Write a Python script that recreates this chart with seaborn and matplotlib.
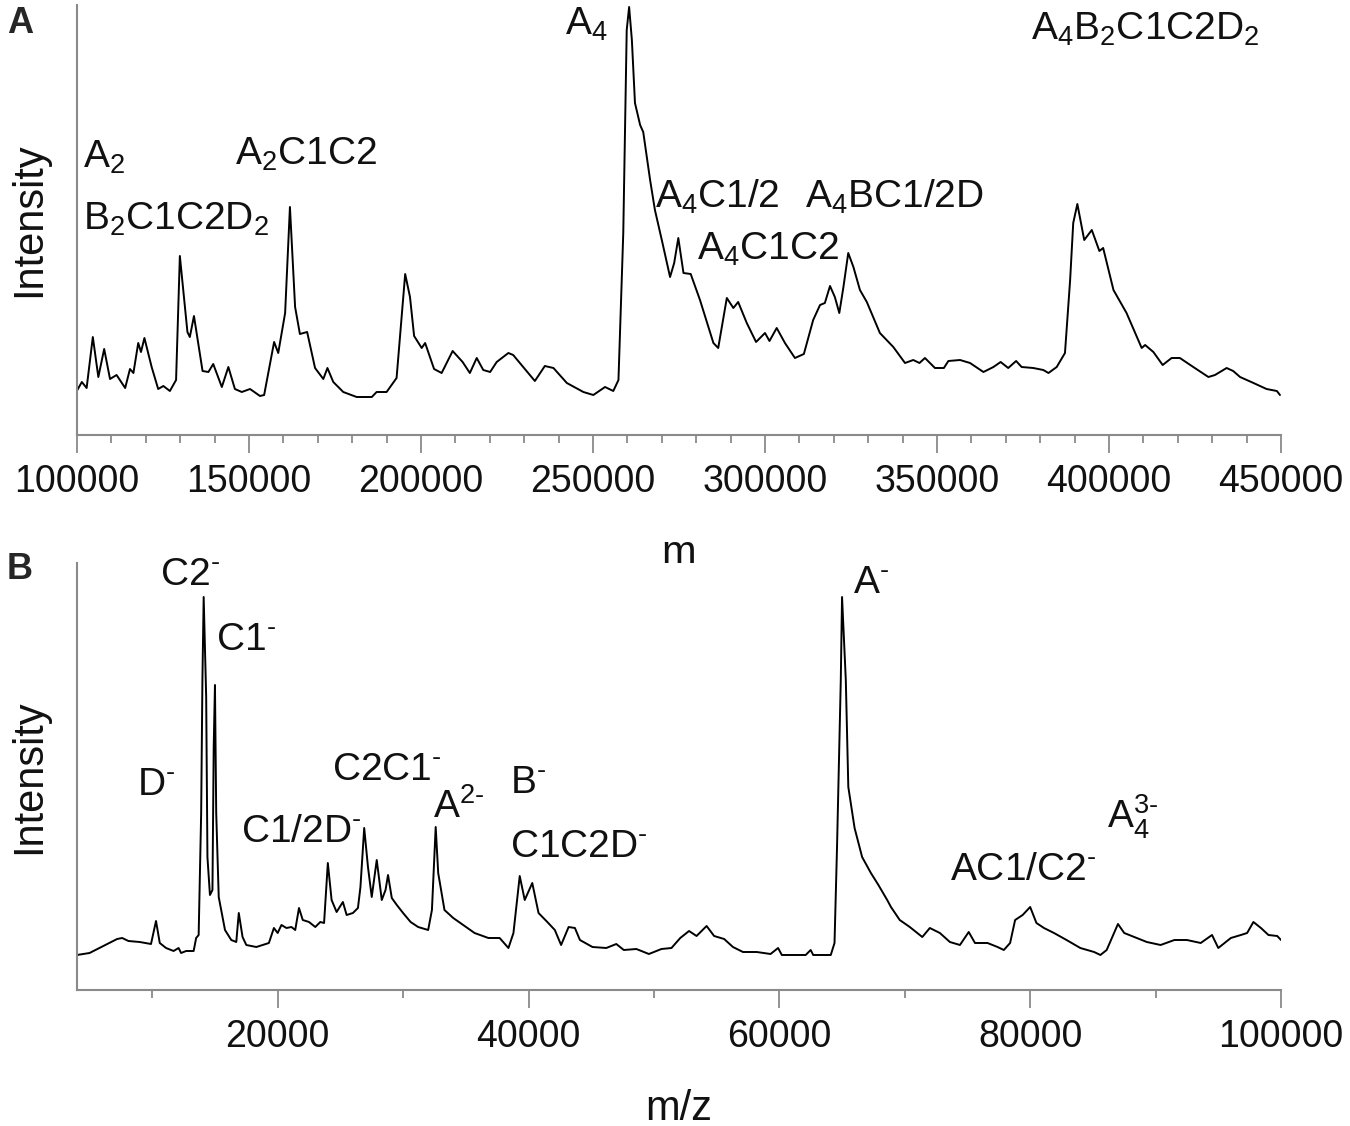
import matplotlib.pyplot as plt
import pandas as pd
import seaborn as sns
from matplotlib.ticker import MultipleLocator

# Panel A: mass spectrum (m), intensity in arbitrary units
a_mass = [100100, 101400, 102800, 104600, 106200, 107900, 109600, 111500, 114000, 115400,
          116400, 117800, 118600, 119600, 121700, 123600, 125100, 127000, 128800, 129900,
          132100, 132800, 134000, 136500, 138200, 139600, 142100, 144000, 145900, 147900,
          150300, 153200, 154400, 157300, 158500, 160500, 161900, 163400, 164800, 166900,
          169200, 171600, 172800, 174500, 177400, 181300, 185700, 187100, 190000, 192900,
          195400, 196800, 198000, 200200, 201200, 203800, 206000, 209200, 212100, 214200,
          216200, 218100, 220100, 222000, 225400, 226800, 229700, 233100, 236000, 238500,
          242400, 247200, 250100, 253500, 255900, 257400, 258800, 259800, 260500, 261300,
          262200, 263700, 264600, 266600, 268000, 270000, 272400, 273600, 274800, 276300,
          278400, 281100, 285000, 286400, 288900, 290800, 292200, 294700, 297400, 300000,
          301300, 303400, 305800, 308700, 311300, 314000, 316000, 317400, 318900, 320300,
          321600, 322800, 324200, 325700, 327600, 329600, 333400, 337300, 340700, 343100,
          344900, 346500, 349400, 352000, 353300, 356700, 359600, 363500, 366400, 368500,
          370700, 373000, 374600, 378000, 380900, 382400, 384800, 387200, 388700, 389600,
          390800, 392800, 395000, 397200, 398300, 401300, 405100, 409500, 410500, 412900,
          415600, 418200, 420600, 424500, 428900, 430800, 434200, 436100, 438100, 442000,
          445800, 448800, 449700]
a_intensity = [45, 53, 47, 98, 58, 86, 56, 60, 47, 66,
               62, 92, 83, 97, 68, 46, 49, 44, 55, 179,
               103, 98, 119, 64, 63, 71, 48, 68, 46, 43,
               46, 39, 40, 93, 82, 122, 228, 128, 101, 103,
               67, 56, 67, 53, 43, 38, 38, 43, 43, 57,
               161, 138, 99, 87, 92, 66, 62, 84, 73, 62,
               77, 65, 63, 73, 82, 80, 68, 54, 69, 67,
               52, 43, 40, 48, 44, 55, 202, 405, 428, 395,
               332, 310, 303, 255, 225, 195, 158, 172, 197, 162,
               161, 135, 92, 87, 137, 127, 133, 112, 93, 102,
               94, 107, 92, 77, 81, 115, 130, 132, 149, 138,
               122, 148, 182, 168, 145, 133, 102, 88, 72, 75,
               72, 77, 67, 67, 74, 75, 72, 63, 68, 73,
               67, 74, 68, 67, 65, 62, 68, 82, 155, 212,
               231, 195, 205, 184, 187, 145, 122, 87, 90, 83,
               70, 77, 77, 68, 58, 60, 67, 64, 58, 52,
               46, 44, 40]

# Panel B: m/z spectrum
b_mz = [4000, 5000, 6100, 7200, 7600, 8100, 9000, 9900, 10300, 10600,
        11100, 11700, 12100, 12300, 12700, 13300, 13500, 13700, 13900, 14000,
        14100, 14300, 14400, 14600, 14800, 14900, 15000, 15100, 15300, 15800,
        16300, 16700, 16900, 17200, 17500, 18300, 19300, 19700, 20000, 20300,
        20700, 21100, 21400, 21700, 22000, 22500, 23000, 23400, 23700, 24000,
        24300, 24700, 25200, 25500, 26000, 26400, 26600, 26900, 27200, 27500,
        27900, 28300, 28600, 28800, 29100, 29500, 30000, 30600, 31200, 32000,
        32300, 32600, 32800, 33300, 34000, 34800, 35700, 36800, 37700, 38400,
        38800, 39300, 39700, 40300, 40800, 41500, 42100, 42600, 43200, 43700,
        44100, 45100, 46200, 47000, 47600, 48600, 49600, 50600, 51400, 52100,
        52800, 53400, 54200, 54800, 55600, 56300, 57100, 58200, 59300, 59900,
        60200, 62100, 62500, 62700, 64100, 64400, 64600, 64900, 65000, 65300,
        65500, 66000, 66600, 67300, 67900, 68600, 68900, 69600, 70400, 71400,
        72000, 72800, 73600, 74400, 75100, 75600, 76600, 77400, 77900, 78400,
        78800, 79400, 80000, 80500, 81100, 81900, 82900, 84000, 85100, 85600,
        86100, 87000, 87500, 88300, 89300, 90400, 91500, 92500, 93600, 94500,
        95000, 96000, 96800, 97300, 97800, 98400, 99000, 99700, 100000]
b_intensity = [35, 37, 44, 51, 52, 49, 48, 46, 69, 47,
               42, 39, 42, 37, 39, 39, 52, 55, 177, 310,
               393, 293, 133, 95, 100, 243, 305, 177, 93, 60,
               50, 48, 77, 53, 45, 43, 47, 62, 57, 65,
               62, 63, 60, 82, 70, 68, 63, 68, 67, 127,
               90, 78, 88, 75, 77, 82, 103, 162, 123, 93,
               130, 90, 100, 115, 92, 85, 77, 68, 63, 60,
               80, 163, 117, 80, 72, 65, 57, 52, 52, 42,
               57, 114, 90, 107, 77, 68, 60, 45, 63, 62,
               50, 43, 42, 46, 40, 41, 36, 41, 42, 52,
               59, 54, 64, 54, 51, 43, 38, 38, 36, 42,
               35, 35, 40, 35, 35, 47, 143, 310, 393, 310,
               203, 162, 133, 117, 105, 90, 83, 70, 63, 53,
               62, 57, 48, 45, 58, 47, 47, 43, 40, 47,
               70, 75, 83, 67, 62, 57, 50, 42, 38, 35,
               40, 66, 57, 53, 48, 45, 50, 50, 47, 55,
               42, 52, 55, 57, 68, 62, 55, 54, 50]

# peak labels: text, x, baseline intensity
HY = '\u2010'  # short hyphen used as the charge sign
a_labels = [r'A$_4$', r'A$_2$', r'B$_2$C1C2D$_2$', r'A$_2$C1C2', r'A$_4$B$_2$C1C2D$_2$',
            r'A$_4$C1/2', r'A$_4$C1C2', r'A$_4$BC1/2D']
a_label_x = [242000, 101700, 101700, 146000, 377300, 268000, 280200, 311600]
a_label_y = [400, 267, 205, 270, 395, 227, 175, 227]

b_labels = ['C2$^{%s}$' % HY, 'C1$^{%s}$' % HY, 'D$^{%s}$' % HY, 'C1/2D$^{%s}$' % HY,
            'C2C1$^{%s}$' % HY, 'A$^{2%s}$' % HY, 'B$^{%s}$' % HY, 'C1C2D$^{%s}$' % HY,
            'A$^{%s}$' % HY, 'AC1/C2$^{%s}$' % HY, 'A$_4^{3%s}$' % HY]
b_label_x = [10600, 15100, 8750, 17100, 24300, 32400, 38500, 38500, 65900, 73600, 86100]
b_label_y = [405, 340, 195, 148, 210, 172, 197, 133, 397, 110, 162]

df_a = pd.DataFrame({'m': a_mass, 'Intensity': a_intensity})
df_b = pd.DataFrame({'m/z': b_mz, 'Intensity': b_intensity})

sns.set_style("ticks")
plt.rcParams['font.family'] = ['Liberation Sans', 'DejaVu Sans']
plt.rcParams['mathtext.fontset'] = 'custom'
plt.rcParams['mathtext.rm'] = 'Liberation Sans'
plt.rcParams['mathtext.it'] = 'Liberation Sans'
plt.rcParams['mathtext.default'] = 'regular'

W, H = 1350, 1126
fig = plt.figure(figsize=(W / 100, H / 100), dpi=100)
ax_a = fig.add_axes([77 / W, 1 - 435 / H, 1204 / W, 430 / H])
ax_b = fig.add_axes([77 / W, 1 - 990 / H, 1204 / W, 427 / H])

spine_col = '#8a8a8a'
ink = '#111111'


def style_axis(ax, major, minor):
    ax.spines[['top', 'right']].set_visible(False)
    for s in ['left', 'bottom']:
        ax.spines[s].set_color(spine_col)
        ax.spines[s].set_linewidth(1.5)
    ax.set_yticks([])
    ax.xaxis.set_major_locator(MultipleLocator(major))
    ax.xaxis.set_minor_locator(MultipleLocator(minor))
    ax.ticklabel_format(axis='x', style='plain', useOffset=False)
    ax.tick_params(axis='x', which='major', length=13, width=1.3, color=spine_col,
                   labelsize=27, pad=8, labelcolor=ink)
    ax.tick_params(axis='x', which='minor', length=6, width=1.3, color=spine_col)


# Panel A
sns.lineplot(data=df_a, x='m', y='Intensity', ax=ax_a, color='black', lw=1.4, estimator=None)
ax_a.set_xlim(100000, 450000)
ax_a.set_ylim(0, 430)
style_axis(ax_a, 50000, 10000)
ax_a.set_xlabel('m', fontsize=30, labelpad=24, color=ink)
ax_a.set_ylabel('Intensity', fontsize=30, labelpad=20, color=ink)
for t, x, y in zip(a_labels, a_label_x, a_label_y):
    ax_a.text(x, y, t, fontsize=28, ha='left', va='baseline', color=ink)

# Panel B
sns.lineplot(data=df_b, x='m/z', y='Intensity', ax=ax_b, color='black', lw=1.4, estimator=None)
ax_b.set_xlim(4000, 100000)
ax_b.set_ylim(0, 427)
style_axis(ax_b, 20000, 10000)
ax_b.set_xlabel('m/z', fontsize=30, labelpad=24, color=ink)
ax_b.set_ylabel('Intensity', fontsize=30, labelpad=20, color=ink)
for t, x, y in zip(b_labels, b_label_x, b_label_y):
    ax_b.text(x, y, t, fontsize=28, ha='left', va='baseline', color=ink)

fig.text(7 / W, 1 - 6 / H, 'A', fontsize=26, fontweight='bold', va='top', ha='left',
         family='Liberation Sans')
fig.text(7 / W, 1 - 552 / H, 'B', fontsize=26, fontweight='bold', va='top', ha='left',
         family='Liberation Sans')

fig.savefig('out.png', dpi=100)
